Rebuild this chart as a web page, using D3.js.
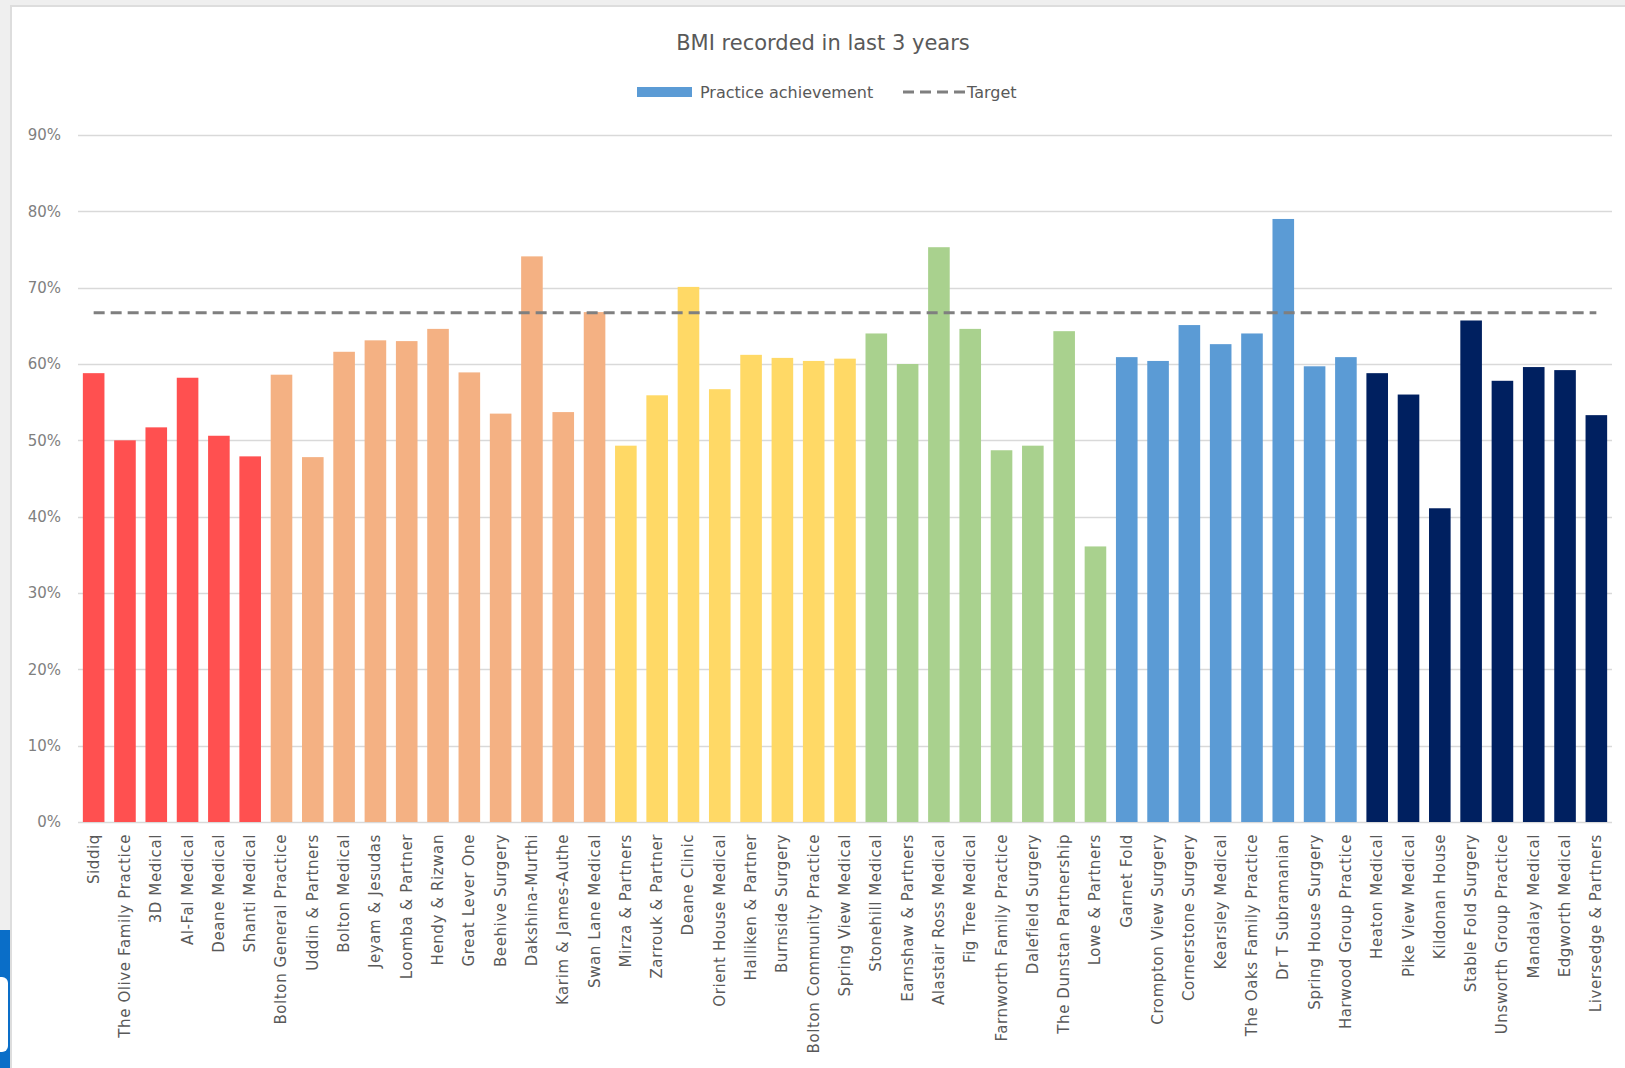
<!DOCTYPE html>
<html>
<head>
<meta charset="utf-8">
<script src="https://cdn.jsdelivr.net/npm/d3@7"></script>
<style>
  html, body { margin: 0; padding: 0; background: #efefef; }
  svg { display: block; font-family: "DejaVu Sans", sans-serif; }
</style>
</head>
<body>
<div id="chart"></div>
<script>
// Practices in chart order
const practices = [
  "Siddiq", "The Olive Family Practice", "3D Medical", "Al-Fal Medical", "Deane Medical", "Shanti Medical",
  "Bolton General Practice", "Uddin & Partners", "Bolton Medical", "Jeyam & Jesudas", "Loomba & Partner",
  "Hendy & Rizwan", "Great Lever One", "Beehive Surgery", "Dakshina-Murthi", "Karim & James-Authe", "Swan Lane Medical",
  "Mirza & Partners", "Zarrouk & Partner", "Deane Clinic", "Orient House Medical", "Halliken & Partner",
  "Burnside Surgery", "Bolton Community Practice", "Spring View Medical",
  "Stonehill Medical", "Earnshaw & Partners", "Alastair Ross Medical", "Fig Tree Medical",
  "Farnworth Family Practice", "Dalefield Surgery", "The Dunstan Partnership", "Lowe & Partners",
  "Garnet Fold", "Crompton View Surgery", "Cornerstone Surgery", "Kearsley Medical",
  "The Oaks Family Practice", "Dr T Subramanian", "Spring House Surgery", "Harwood Group Practice",
  "Heaton Medical", "Pike View Medical", "Kildonan House", "Stable Fold Surgery",
  "Unsworth Group Practice", "Mandalay Medical", "Edgworth Medical", "Liversedge & Partners"
];

// Practice achievement (%)
const achievement = [
  58.8, 50.0, 51.7, 58.2, 50.6, 47.9,
  58.6, 47.8, 61.6, 63.1, 63.0, 64.6, 58.9, 53.5, 74.1, 53.7, 66.8,
  49.3, 55.9, 70.1, 56.7, 61.2, 60.8, 60.4, 60.7,
  64.0, 60.0, 75.3, 64.6, 48.7, 49.3, 64.3, 36.1,
  60.9, 60.4, 65.1, 62.6, 64.0, 79.0, 59.7, 60.9,
  58.8, 56.0, 41.1, 65.7, 57.8, 59.6, 59.2, 53.3
];

// Colour group sizes (in order) and their colours
const groupSizes = [6, 11, 8, 8, 8, 8];
const groupColours = ["#ff5050", "#f4b183", "#ffd966", "#a9d18e", "#5b9bd5", "#002060"];

const target = 66.7;
const yTicks = [0, 10, 20, 30, 40, 50, 60, 70, 80, 90];

const width = 1625, height = 1068;
const margin = { top: 135, right: 13, bottom: 246, left: 78 };

const svg = d3.select("#chart").append("svg")
  .attr("width", width)
  .attr("height", height);

// Panel frame
svg.append("rect").attr("x", 0).attr("y", 0).attr("width", width).attr("height", height).attr("fill", "#efefef");
svg.append("rect").attr("x", 10).attr("y", 5).attr("width", width - 10).attr("height", height - 5).attr("fill", "#dddddd");
svg.append("rect").attr("x", 12).attr("y", 7).attr("width", width - 12).attr("height", height - 7).attr("fill", "#ffffff");

// Blue tab at bottom-left edge
svg.append("rect").attr("x", 0).attr("y", 930).attr("width", 10).attr("height", 138).attr("fill", "#0a6ec8");
svg.append("rect").attr("x", -6).attr("y", 977).attr("width", 14).attr("height", 75).attr("rx", 6).attr("fill", "#ffffff");

// colour per practice from group sizes
const colours = [];
groupSizes.forEach((n, g) => { for (let i = 0; i < n; i++) colours.push(groupColours[g]); });

const x = d3.scaleBand()
  .domain(practices)
  .range([margin.left, width - margin.right])
  .paddingInner(0.31)
  .paddingOuter(0.155);

const y = d3.scaleLinear()
  .domain([0, 90])
  .range([height - margin.bottom, margin.top]);

// Gridlines
svg.append("g")
  .selectAll("line")
  .data(yTicks)
  .join("line")
  .attr("x1", margin.left)
  .attr("x2", width - margin.right)
  .attr("y1", d => Math.round(y(d)) + 0.5)
  .attr("y2", d => Math.round(y(d)) + 0.5)
  .attr("stroke", "#d9d9d9")
  .attr("stroke-width", 1.5);

// Y axis labels
const yAxis = svg.append("g")
  .attr("transform", `translate(${margin.left - 17},0)`)
  .call(d3.axisLeft(y).tickValues(yTicks).tickSize(0).tickFormat(d => d + "%"));
yAxis.select(".domain").remove();
yAxis.selectAll("text")
  .attr("x", 0)
  .style("font-family", "DejaVu Sans, sans-serif")
  .style("font-size", "15px")
  .attr("fill", "#7f7f7f");

// Bars
svg.append("g")
  .selectAll("rect")
  .data(practices)
  .join("rect")
  .attr("x", d => x(d))
  .attr("width", x.bandwidth())
  .attr("y", (d, i) => y(achievement[i]))
  .attr("height", (d, i) => y(0) - y(achievement[i]))
  .attr("fill", (d, i) => colours[i]);

// Target line from first to last category centre
svg.append("line")
  .attr("x1", x(practices[0]) + x.bandwidth() / 2)
  .attr("x2", x(practices[practices.length - 1]) + x.bandwidth() / 2)
  .attr("y1", y(target))
  .attr("y2", y(target))
  .attr("stroke", "#7f7f7f")
  .attr("stroke-width", 3)
  .attr("stroke-dasharray", "11,6");

// X axis labels (rotated)
svg.append("g")
  .selectAll("text")
  .data(practices)
  .join("text")
  .attr("transform", d => `translate(${x(d) + x.bandwidth() / 2 + 5},${y(0) + 12}) rotate(-90)`)
  .attr("text-anchor", "end")
  .style("font-size", "15px")
  .style("letter-spacing", "0.6px")
  .attr("fill", "#595959")
  .text(d => d);

// Title
svg.append("text")
  .attr("x", 823)
  .attr("y", 50)
  .attr("text-anchor", "middle")
  .style("font-size", "21px")
  .attr("fill", "#595959")
  .text("BMI recorded in last 3 years");

// Legend
const legend = svg.append("g");
legend.append("rect")
  .attr("x", 637).attr("y", 87).attr("width", 55).attr("height", 10)
  .attr("fill", "#5b9bd5");
legend.append("text")
  .attr("x", 700).attr("y", 98)
  .style("font-size", "16px")
  .attr("fill", "#595959")
  .text("Practice achievement");
legend.append("line")
  .attr("x1", 903).attr("x2", 965).attr("y1", 92).attr("y2", 92)
  .attr("stroke", "#7f7f7f").attr("stroke-width", 3)
  .attr("stroke-dasharray", "11,6");
legend.append("text")
  .attr("x", 967).attr("y", 98)
  .style("font-size", "16px")
  .attr("fill", "#595959")
  .text("Target");
</script>
</body>
</html>
